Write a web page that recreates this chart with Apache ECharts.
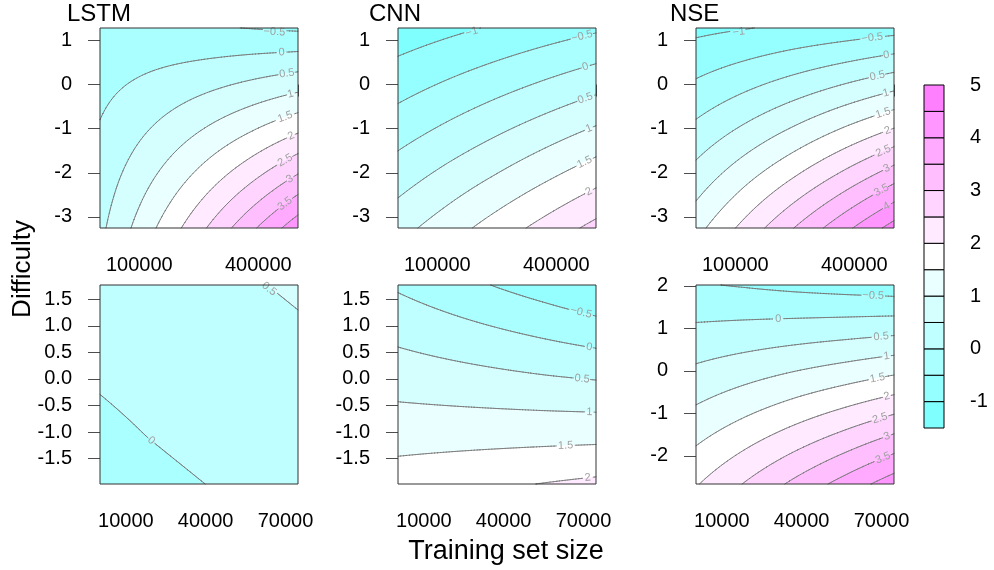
<!DOCTYPE html>
<html><head><meta charset="utf-8">
<script src="https://cdn.jsdelivr.net/npm/echarts@6/dist/echarts.min.js"></script>
<style>html,body{margin:0;padding:0;background:#fff;}#c{width:994px;height:570px;}</style>
</head><body><div id="c"></div>
<script>
const FONT = '"Liberation Sans", Arial, Helvetica, sans-serif';

// contour levels and band colours
const levels = [-1.5, -1, -0.5, 0, 0.5, 1, 1.5, 2, 2.5, 3, 3.5, 4, 4.5, 5];
const bandColors = ['#80FFFF','#95FFFF','#AAFFFF','#BFFFFF','#D5FFFF','#EAFFFF','#FFFFFF',
                    '#FFEAFF','#FFD5FF','#FFBFFF','#FFAAFF','#FF95FF','#FF80FF'];
const keyTicks = [-1, 0, 1, 2, 3, 4, 5];

// sample positions (training set size, difficulty)
const topSize = [1000, 125750, 250500, 375250, 500000];
const topDifficulty = [-3.25, -2.12, -0.99, 0.15, 1.28];
const bottomSize = [300, 18900, 37500, 56100, 74700];
const bottomDifficulty = [-1.98, -1.04, -0.105, 0.83, 1.77];
const nseBottomDifficulty = [-2.66, -1.49, -0.32, 0.85, 2.02];

// surface values: rows = difficulty (low -> high), columns = training set size
const lstmTop = [
  [0.38, 1.37, 2.35, 3.34, 4.32],
  [0.21, 0.93, 1.65, 2.37, 3.10],
  [0.03, 0.49, 0.95, 1.41, 1.88],
  [-0.15, 0.05, 0.25, 0.45, 0.65],
  [-0.32, -0.38, -0.45, -0.51, -0.58]
];
const cnnTop = [
  [0.82, 1.27, 1.73, 2.19, 2.65],
  [0.29, 0.68, 1.06, 1.45, 1.84],
  [-0.24, 0.08, 0.40, 0.72, 1.04],
  [-0.77, -0.52, -0.27, -0.02, 0.23],
  [-1.30, -1.12, -0.94, -0.76, -0.58]
];
const nseTop = [
  [1.33, 2.17, 3.02, 3.86, 4.70],
  [0.72, 1.38, 2.03, 2.69, 3.35],
  [0.11, 0.58, 1.05, 1.53, 2.00],
  [-0.51, -0.22, 0.07, 0.36, 0.65],
  [-1.12, -1.02, -0.91, -0.81, -0.70]
];
const lstmBottom = [
  [-0.17, -0.09, -0.01, 0.07, 0.15],
  [-0.08, 0.01, 0.09, 0.17, 0.25],
  [0.02, 0.10, 0.19, 0.27, 0.35],
  [0.12, 0.20, 0.29, 0.37, 0.45],
  [0.22, 0.30, 0.38, 0.47, 0.55]
];
const cnnBottom = [
  [1.75, 1.84, 1.93, 2.02, 2.11],
  [1.30, 1.31, 1.32, 1.33, 1.34],
  [0.84, 0.77, 0.70, 0.63, 0.57],
  [0.39, 0.24, 0.09, -0.06, -0.21],
  [-0.07, -0.30, -0.53, -0.75, -0.98]
];
const nseBottom = [
  [1.96, 2.54, 3.12, 3.69, 4.27],
  [1.36, 1.77, 2.18, 2.59, 3.01],
  [0.75, 1.00, 1.25, 1.49, 1.74],
  [0.15, 0.23, 0.31, 0.39, 0.48],
  [-0.46, -0.54, -0.63, -0.71, -0.79]
];

// tick positions / labels
const topSizeTicks = [100000, 200000, 300000, 400000, 500000];
const topSizeLabels = [100000, 400000];
const bottomSizeTicks = [10000, 20000, 30000, 40000, 50000, 60000, 70000];
const bottomSizeLabels = [10000, 40000, 70000];
const topDiffTicks = [-3, -2, -1, 0, 1];
const bottomDiffTicks = [-1.5, -1, -0.5, 0, 0.5, 1, 1.5];
const nseBottomDiffTicks = [-2, -1, 0, 1, 2];

const int = v => String(v);
const dec1 = v => v.toFixed(1);
const panels = [
  {title:'LSTM', z:lstmTop, xs:topSize, ys:topDifficulty, xt:topSizeTicks, xl:topSizeLabels, yt:topDiffTicks, yf:int, left:100, top:28, h:200, tx:67},
  {title:'CNN',  z:cnnTop,  xs:topSize, ys:topDifficulty, xt:topSizeTicks, xl:topSizeLabels, yt:topDiffTicks, yf:int, left:398, top:28, h:200, tx:369},
  {title:'NSE',  z:nseTop,  xs:topSize, ys:topDifficulty, xt:topSizeTicks, xl:topSizeLabels, yt:topDiffTicks, yf:int, left:696, top:28, h:200, tx:670},
  {z:lstmBottom, xs:bottomSize, ys:bottomDifficulty, xt:bottomSizeTicks, xl:bottomSizeLabels, yt:bottomDiffTicks, yf:dec1, left:100, top:285, h:199},
  {z:cnnBottom,  xs:bottomSize, ys:bottomDifficulty, xt:bottomSizeTicks, xl:bottomSizeLabels, yt:bottomDiffTicks, yf:dec1, left:398, top:285, h:199},
  {z:nseBottom,  xs:bottomSize, ys:nseBottomDifficulty, xt:bottomSizeTicks, xl:bottomSizeLabels, yt:nseBottomDiffTicks, yf:int, left:696, top:285, h:199}
];

function evalGrid(xs, ys, Z, x, y) {
  let i = 0; while (i < xs.length - 2 && x > xs[i + 1]) i++;
  let j = 0; while (j < ys.length - 2 && y > ys[j + 1]) j++;
  const u = (x - xs[i]) / (xs[i + 1] - xs[i]);
  const v = (y - ys[j]) / (ys[j + 1] - ys[j]);
  return (1 - u) * (1 - v) * Z[j][i] + u * (1 - v) * Z[j][i + 1] + (1 - u) * v * Z[j + 1][i] + u * v * Z[j + 1][i + 1];
}
function bandOf(z) { let k = 0; while (k < bandColors.length - 1 && z >= levels[k + 1]) k++; return k; }
function fmtLevel(L) { return L < 0 ? '\u2212' + String(-L) : String(L); }
function labelWidth(s, fs) { let w = 0; for (const ch of s) w += ch === '.' ? 0.278 : (ch === '\u2212' ? 0.584 : 0.556); return w * fs; }
function clip(poly, lev, keepAbove) {
  const out = []; const n = poly.length;
  for (let k = 0; k < n; k++) {
    const A = poly[k], B = poly[(k + 1) % n];
    const ia = keepAbove ? A[2] >= lev : A[2] <= lev;
    const ib = keepAbove ? B[2] >= lev : B[2] <= lev;
    if (ia) out.push(A);
    if (ia !== ib) { const t = (lev - A[2]) / (B[2] - A[2]); out.push([A[0] + t * (B[0] - A[0]), A[1] + t * (B[1] - A[1]), lev]); }
  }
  return out;
}
function polyStr(poly) {
  let s = 'M' + poly[0][0].toFixed(2) + ' ' + poly[0][1].toFixed(2);
  for (let k = 1; k < poly.length; k++) s += 'L' + poly[k][0].toFixed(2) + ' ' + poly[k][1].toFixed(2);
  return s + 'Z';
}

function renderPanel(p, api) {
  const xs = p.xs, ys = p.ys, Z = p.z;
  const xa = xs[0], xb = xs[xs.length - 1], ya = ys[0], yb = ys[ys.length - 1];
  const NX = 70, NY = 70;
  const P = [];
  for (let j = 0; j <= NY; j++) {
    const row = []; const y = ya + (yb - ya) * j / NY;
    for (let i = 0; i <= NX; i++) {
      const x = xa + (xb - xa) * i / NX; const c = api.coord([x, y]);
      row.push([c[0], c[1], evalGrid(xs, ys, Z, x, y)]);
    }
    P.push(row);
  }
  const nb = bandColors.length;
  const fills = new Array(nb).fill('');
  const segs = {};
  const cl = levels.slice(1, -1);
  for (let j = 0; j < NY; j++) for (let i = 0; i < NX; i++) {
    const a = P[j][i], b = P[j][i + 1], c = P[j + 1][i + 1], d = P[j + 1][i];
    const ba = bandOf(a[2]);
    if (ba === bandOf(b[2]) && ba === bandOf(c[2]) && ba === bandOf(d[2])) { fills[ba] += polyStr([a, b, c, d]); continue; }
    for (const tri of [[a, b, c], [a, c, d]]) {
      const zmin = Math.min(tri[0][2], tri[1][2], tri[2][2]);
      const zmax = Math.max(tri[0][2], tri[1][2], tri[2][2]);
      for (let k = bandOf(zmin); k <= bandOf(zmax); k++) {
        let poly = tri;
        if (k > 0) poly = clip(poly, levels[k], true);
        if (poly.length >= 3 && k < nb - 1) poly = clip(poly, levels[k + 1], false);
        if (poly.length >= 3) fills[k] += polyStr(poly);
      }
      for (const L of cl) {
        if (L <= zmin || L >= zmax) continue;
        const pts = [];
        for (let e = 0; e < 3; e++) {
          const A = tri[e], B = tri[(e + 1) % 3];
          if ((A[2] - L) * (B[2] - L) < 0) { const t = (L - A[2]) / (B[2] - A[2]); pts.push([A[0] + t * (B[0] - A[0]), A[1] + t * (B[1] - A[1])]); }
          else if (A[2] === L) pts.push([A[0], A[1]]);
        }
        if (pts.length >= 2) (segs[L] = segs[L] || []).push([pts[0][0], pts[0][1], pts[1][0], pts[1][1]]);
      }
    }
  }
  const tl = api.coord([xa, yb]), br = api.coord([xb, ya]);
  const l = tl[0], r = br[0], t = tl[1], bt = br[1];
  const FS = 11;
  const labels = [];
  for (const L of cl) {
    const S = segs[L]; if (!S) continue;
    let len = 0; S.forEach(s => { len += Math.hypot(s[2] - s[0], s[3] - s[1]); });
    if (len < 30) continue;
    const txt = fmtLevel(L), tw = labelWidth(txt, FS);
    let best = null, bestS = Infinity;
    for (const s of S) {
      const mx = (s[0] + s[2]) / 2, my = (s[1] + s[3]) / 2;
      if (mx - l < tw / 2 + 3 || r - mx < tw / 2 + 3 || my - t < 1 || bt - my < 5) continue;
      const dx = s[2] - s[0], dy = s[3] - s[1];
      if (Math.hypot(dx, dy) < 0.3) continue;
      const sl = Math.abs(dx) < 1e-9 ? 1e9 : Math.abs(dy / dx);
      if (sl < bestS - 2e-3 || (Math.abs(sl - bestS) <= 2e-3 && best && mx < best.mx)) { bestS = sl; best = {mx, my, dx, dy}; }
    }
    if (!best) continue;
    let dx = best.dx, dy = best.dy; if (dx < 0) { dx = -dx; dy = -dy; }
    const n = Math.hypot(dx, dy);
    labels.push({txt, tw, x: best.mx, y: Math.max(best.my, t + 4), ux: dx / n, uy: dy / n});
  }
  let lines = '';
  for (const L of cl) {
    const S = segs[L]; if (!S) continue;
    for (const s of S) {
      const mx = (s[0] + s[2]) / 2, my = (s[1] + s[3]) / 2;
      let skip = false;
      for (const lb of labels) {
        const rx = mx - lb.x, ry = my - lb.y;
        const along = rx * lb.ux + ry * lb.uy, perp = -rx * lb.uy + ry * lb.ux;
        if (Math.abs(along) < lb.tw / 2 + 1.5 && Math.abs(perp) < 5) { skip = true; break; }
      }
      if (!skip) lines += 'M' + s[0].toFixed(2) + ' ' + s[1].toFixed(2) + 'L' + s[2].toFixed(2) + ' ' + s[3].toFixed(2);
    }
  }
  const children = [];
  fills.forEach((d, k) => { if (d) children.push({type: 'path', shape: {pathData: d}, style: {fill: bandColors[k], stroke: null}}); });
  if (lines) children.push({type: 'path', shape: {pathData: lines}, style: {fill: 'none', stroke: '#737373', lineWidth: 0.85, lineCap: 'round'}});
  labels.forEach(lb => children.push({
    type: 'text', x: lb.x, y: lb.y, rotation: Math.atan2(-lb.uy, lb.ux),
    style: {text: lb.txt, fontSize: FS, fontFamily: FONT, fill: '#a0a0a0', align: 'center', verticalAlign: 'middle'}
  }));
  children.push({type: 'rect', shape: {x: l, y: t, width: r - l, height: bt - t}, style: {fill: 'none', stroke: '#333333', lineWidth: 1}});
  return {type: 'group', children};
}

const grids = [], xAxes = [], yAxes = [], series = [], graphics = [];
panels.forEach((p, k) => {
  grids.push({left: p.left, top: p.top, width: 198, height: p.h, show: false});
  xAxes.push({
    gridIndex: k, type: 'value', min: p.xs[0], max: p.xs[p.xs.length - 1],
    axisLine: {show: false}, splitLine: {show: false},
    axisTick: {show: true, length: 12, lineStyle: {color: '#4d4d4d', width: 1}, customValues: p.xt},
    axisLabel: {customValues: p.xl, formatter: int, fontSize: 20, fontFamily: FONT, color: '#000', margin: 27}
  });
  yAxes.push({
    gridIndex: k, type: 'value', min: p.ys[0], max: p.ys[p.ys.length - 1],
    axisLine: {show: false}, splitLine: {show: false},
    axisTick: {show: true, length: 12, lineStyle: {color: '#4d4d4d', width: 1}, customValues: p.yt},
    axisLabel: {customValues: p.yt, formatter: p.yf, fontSize: 20, fontFamily: FONT, color: '#000', margin: 28}
  });
  series.push({
    type: 'custom', coordinateSystem: 'cartesian2d', xAxisIndex: k, yAxisIndex: k, silent: true,
    data: [[p.xs[0], p.ys[0]]], renderItem: (params, api) => renderPanel(p, api)
  });
  if (p.title) graphics.push({type: 'text', x: p.tx, y: 14, style: {text: p.title, fontSize: 24, fontFamily: FONT, fill: '#000', verticalAlign: 'middle'}});
});

// colour key
grids.push({left: 924, top: 85, width: 20, height: 343, show: false});
xAxes.push({gridIndex: 6, type: 'value', min: 0, max: 1, show: false});
yAxes.push({
  gridIndex: 6, type: 'value', position: 'right', min: -1.5, max: 5,
  axisLine: {show: false}, splitLine: {show: false},
  axisTick: {show: true, length: 13, lineStyle: {color: '#333', width: 1}, customValues: keyTicks},
  axisLabel: {customValues: keyTicks, formatter: int, fontSize: 20, fontFamily: FONT, color: '#000', margin: 26}
});
series.push({
  type: 'custom', coordinateSystem: 'cartesian2d', xAxisIndex: 6, yAxisIndex: 6, silent: true,
  data: levels.slice(0, -1).map((lo, k) => [0, lo, levels[k + 1], k]),
  encode: {x: 0, y: [1, 2]},
  renderItem: (params, api) => {
    const p1 = api.coord([0, api.value(2)]), p2 = api.coord([1, api.value(1)]);
    return {type: 'rect', shape: {x: p1[0], y: p1[1], width: p2[0] - p1[0], height: p2[1] - p1[1]},
            style: {fill: bandColors[api.value(3)], stroke: '#000', lineWidth: 1}};
  }
});

graphics.push({type: 'text', x: 506, y: 552, style: {text: 'Training set size', fontSize: 27, fontFamily: FONT, fill: '#000', align: 'center', verticalAlign: 'middle'}});
graphics.push({type: 'text', x: 23, y: 269, rotation: Math.PI / 2, style: {text: 'Difficulty', fontSize: 26, fontFamily: FONT, fill: '#000', align: 'center', verticalAlign: 'middle'}});

const chart = echarts.init(document.getElementById('c'), null, {renderer: 'canvas'});
chart.setOption({animation: false, backgroundColor: '#fff', grid: grids, xAxis: xAxes, yAxis: yAxes, series, graphic: graphics});
</script>
</body></html>
